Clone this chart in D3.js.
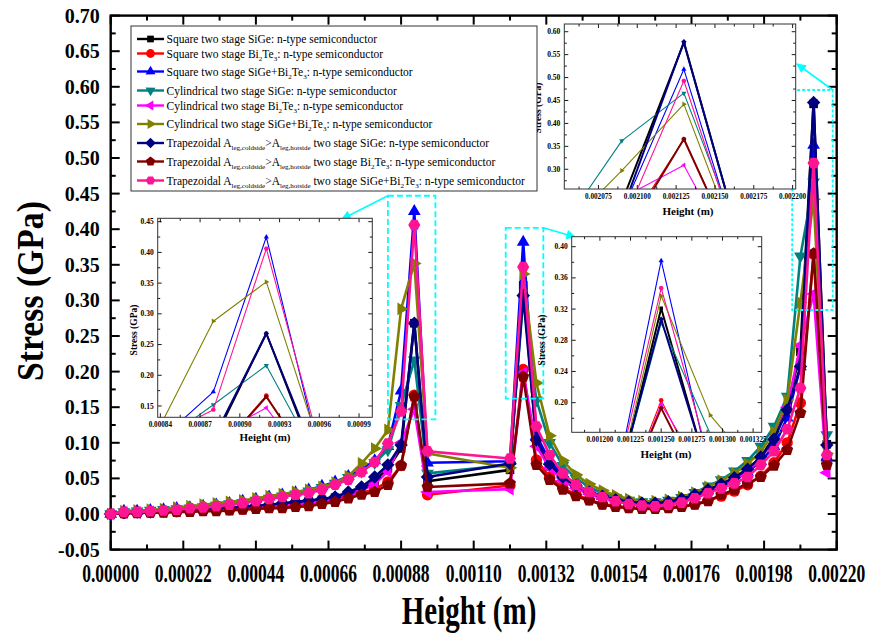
<!DOCTYPE html>
<html><head><meta charset="utf-8">
<script src="https://cdn.jsdelivr.net/npm/d3@7"></script>
<style>body{margin:0;background:#fff}svg{display:block}</style>
</head><body>
<svg id="chart" width="874" height="636"></svg>
<script>
// Mesh heights along the two-stage leg (m)
const heights = [
  0, 0.00004, 0.00008, 0.00012, 0.00016, 0.00020, 0.00024, 0.00028, 0.00032, 0.00036,
  0.00040, 0.00044, 0.00048, 0.00052, 0.00056, 0.00060, 0.00064, 0.00068, 0.00072, 0.00076,
  0.00080, 0.00084, 0.00088, 0.00092,
  0.00096, 0.00121,
  0.00125, 0.00129, 0.00133, 0.00137, 0.00141, 0.00145, 0.00149, 0.00153, 0.00157, 0.00161,
  0.00165, 0.00169, 0.00173, 0.00177, 0.00181, 0.00185, 0.00189, 0.00193, 0.00197, 0.00201,
  0.00205, 0.00209, 0.00213,
  0.00217
];

// Stress (GPa) for each configuration
const squareSiGe = [
  0, 0.002, 0.002, 0.003, 0.004, 0.004, 0.005, 0.006, 0.007, 0.008,
  0.009, 0.011, 0.012, 0.014, 0.016, 0.018, 0.020, 0.023, 0.028, 0.035,
  0.047, 0.064, 0.092, 0.268,
  0.046, 0.062,
  0.321, 0.100, 0.067, 0.050, 0.038, 0.030, 0.024, 0.019, 0.016, 0.014,
  0.014, 0.016, 0.020, 0.026, 0.033, 0.041, 0.050, 0.062, 0.080, 0.108,
  0.150, 0.228, 0.576,
  0.098
];
const squareBiTe = [
  0, 0.001, 0.002, 0.002, 0.003, 0.003, 0.004, 0.005, 0.005, 0.006,
  0.007, 0.008, 0.009, 0.010, 0.011, 0.013, 0.016, 0.019, 0.024, 0.029,
  0.035, 0.045, 0.068, 0.167,
  0.027, 0.040,
  0.203, 0.076, 0.052, 0.037, 0.027, 0.020, 0.014, 0.011, 0.009, 0.008,
  0.008, 0.009, 0.011, 0.014, 0.019, 0.025, 0.032, 0.041, 0.053, 0.072,
  0.100, 0.156, 0.365,
  0.075
];
const squareMixed = [
  0, 0.004, 0.004, 0.005, 0.006, 0.008, 0.009, 0.011, 0.013, 0.015,
  0.018, 0.021, 0.024, 0.027, 0.030, 0.034, 0.039, 0.045, 0.053, 0.062,
  0.075, 0.095, 0.173, 0.425,
  0.072, 0.074,
  0.382, 0.110, 0.075, 0.055, 0.041, 0.032, 0.025, 0.020, 0.016, 0.014,
  0.014, 0.016, 0.020, 0.026, 0.033, 0.040, 0.048, 0.059, 0.074, 0.095,
  0.135, 0.207, 0.518,
  0.080
];
const cylSiGe = [
  0, 0.003, 0.004, 0.005, 0.006, 0.007, 0.008, 0.010, 0.012, 0.014,
  0.016, 0.019, 0.022, 0.025, 0.028, 0.032, 0.037, 0.043, 0.051, 0.060,
  0.072, 0.090, 0.152, 0.216,
  0.057, 0.069,
  0.302, 0.160, 0.100, 0.068, 0.050, 0.038, 0.029, 0.023, 0.019, 0.017,
  0.017, 0.019, 0.023, 0.030, 0.039, 0.048, 0.060, 0.075, 0.095, 0.123,
  0.165, 0.362, 0.466,
  0.111
];
const cylBiTe = [
  0, 0.002, 0.002, 0.003, 0.003, 0.004, 0.005, 0.006, 0.006, 0.007,
  0.008, 0.009, 0.010, 0.012, 0.013, 0.015, 0.018, 0.021, 0.026, 0.033,
  0.042, 0.060, 0.100, 0.147,
  0.031, 0.035,
  0.198, 0.095, 0.065, 0.047, 0.036, 0.028, 0.022, 0.018, 0.015, 0.013,
  0.013, 0.015, 0.019, 0.024, 0.031, 0.039, 0.048, 0.060, 0.078, 0.105,
  0.150, 0.237, 0.309,
  0.058
];
const cylMixed = [
  0, 0.004, 0.005, 0.006, 0.007, 0.009, 0.011, 0.013, 0.015, 0.017,
  0.019, 0.022, 0.025, 0.028, 0.031, 0.034, 0.038, 0.044, 0.053, 0.071,
  0.092, 0.118, 0.288, 0.352,
  0.085, 0.065,
  0.337, 0.184, 0.110, 0.075, 0.055, 0.042, 0.033, 0.026, 0.021, 0.018,
  0.018, 0.020, 0.024, 0.030, 0.038, 0.047, 0.057, 0.070, 0.088, 0.115,
  0.160, 0.297, 0.442,
  0.085
];
const trapSiGe = [
  0, 0.002, 0.003, 0.003, 0.004, 0.005, 0.006, 0.007, 0.008, 0.009,
  0.010, 0.012, 0.013, 0.015, 0.017, 0.019, 0.021, 0.024, 0.031, 0.038,
  0.052, 0.069, 0.097, 0.268,
  0.052, 0.071,
  0.307, 0.104, 0.070, 0.052, 0.040, 0.031, 0.025, 0.020, 0.017, 0.015,
  0.015, 0.017, 0.021, 0.027, 0.034, 0.042, 0.051, 0.063, 0.080, 0.105,
  0.146, 0.207, 0.578,
  0.097
];
const trapBiTe = [
  0, 0.001, 0.001, 0.002, 0.002, 0.003, 0.003, 0.004, 0.004, 0.005,
  0.006, 0.007, 0.008, 0.008, 0.010, 0.011, 0.014, 0.017, 0.022, 0.027,
  0.031, 0.041, 0.068, 0.165,
  0.038, 0.043,
  0.193, 0.069, 0.048, 0.034, 0.025, 0.019, 0.013, 0.010, 0.008, 0.007,
  0.007, 0.008, 0.010, 0.013, 0.018, 0.027, 0.034, 0.043, 0.052, 0.068,
  0.090, 0.142, 0.366,
  0.069
];
const trapMixed = [
  0, 0.003, 0.003, 0.004, 0.005, 0.006, 0.008, 0.009, 0.011, 0.013,
  0.015, 0.018, 0.021, 0.024, 0.027, 0.029, 0.034, 0.041, 0.048, 0.059,
  0.073, 0.099, 0.144, 0.406,
  0.088, 0.078,
  0.347, 0.123, 0.083, 0.057, 0.041, 0.031, 0.024, 0.018, 0.014, 0.012,
  0.011, 0.013, 0.016, 0.022, 0.029, 0.036, 0.043, 0.052, 0.069, 0.088,
  0.119, 0.177, 0.493,
  0.083
];

const xTicks = [0, 0.00022, 0.00044, 0.00066, 0.00088, 0.0011, 0.00132, 0.00154, 0.00176, 0.00198, 0.0022];
const yTicks = [-0.05, 0, 0.05, 0.10, 0.15, 0.20, 0.25, 0.30, 0.35, 0.40, 0.45, 0.50, 0.55, 0.60, 0.65, 0.70];

const series = [
  {values: squareSiGe,  color: "#000000", shape: "square",   label: [["Square two stage SiGe: n-type semiconductor"]]},
  {values: squareBiTe,  color: "#FF0000", shape: "circle",   label: [["Square two stage Bi"],["2","s"],["Te"],["3","s"],[": n-type semiconductor"]]},
  {values: squareMixed, color: "#0000FF", shape: "triUp",    label: [["Square two stage SiGe+Bi"],["2","s"],["Te"],["3","s"],[": n-type semiconductor"]]},
  {values: cylSiGe,     color: "#008080", shape: "triDown",  label: [["Cylindrical two stage SiGe: n-type semiconductor"]]},
  {values: cylBiTe,     color: "#FF00FF", shape: "triLeft",  label: [["Cylindrical two stage Bi"],["2","s"],["Te"],["3","s"],[": n-type semiconductor"]]},
  {values: cylMixed,    color: "#808000", shape: "triRight", label: [["Cylindrical two stage SiGe+Bi"],["2","s"],["Te"],["3","s"],[": n-type semiconductor"]]},
  {values: trapSiGe,    color: "#000080", shape: "diamond",  label: [["Trapezoidal A"],["leg,coldside","s"],[">A"],["leg,hotside","s"],[" two stage SiGe: n-type semiconductor"]]},
  {values: trapBiTe,    color: "#800000", shape: "pentagon", label: [["Trapezoidal A"],["leg,coldside","s"],[">A"],["leg,hotside","s"],[" two stage Bi"],["2","s"],["Te"],["3","s"],[": n-type semiconductor"]]},
  {values: trapMixed,   color: "#FF1493", shape: "hexagon",  label: [["Trapezoidal A"],["leg,coldside","s"],[">A"],["leg,hotside","s"],[" two stage SiGe+Bi"],["2","s"],["Te"],["3","s"],[": n-type semiconductor"]]}
];

const FONT = "'Liberation Serif','Times New Roman',serif";
const svg = d3.select("#chart");
// tick formatting with a plain hyphen for negatives
const fmt = spec => v => d3.format(spec)(v).replace("\u2212", "-");

// ---- marker shapes ----
function polygon(n, r, rot) {
  const pts = [];
  for (let k = 0; k < n; k++) {
    const a = (rot + k * 360 / n) * Math.PI / 180;
    pts.push([r * Math.sin(a), -r * Math.cos(a)]);
  }
  return "M" + pts.map(p => p[0].toFixed(2) + "," + p[1].toFixed(2)).join("L") + "Z";
}
function markerPath(shape, s) {
  switch (shape) {
    case "square":   return polygon(4, s * 0.95, 45);
    case "circle":   return d3.symbol(d3.symbolCircle, Math.PI * s * s * 0.78)();
    case "triUp":    return polygon(3, s * 1.15, 0);
    case "triDown":  return polygon(3, s * 1.15, 180);
    case "triLeft":  return polygon(3, s * 1.15, 270);
    case "triRight": return polygon(3, s * 1.15, 90);
    case "diamond":  return polygon(4, s * 1.05, 0);
    case "pentagon": return polygon(5, s * 0.98, 0);
    case "hexagon":  return polygon(6, s * 0.95, 30);
  }
}

// ---- main scales ----
const x = d3.scaleLinear().domain([0, 0.0022]).range([110.7, 836.7]);
const y = d3.scaleLinear().domain([-0.05, 0.70]).range([549.6, 15.6]);

// ---- main axes frame with inward ticks ----
const frame = svg.append("g");
const L = x.range()[0], R = x.range()[1], T = y.range()[1], B = y.range()[0];

function inwardAxis(g, scale, majors, minors, side, a, majLen, minLen, sw) {
  const add = (v, len) => {
    const p = scale(v);
    let x1, y1, x2, y2;
    if (side === "bottom") { x1 = x2 = p; y1 = a; y2 = a - len; }
    if (side === "top")    { x1 = x2 = p; y1 = a; y2 = a + len; }
    if (side === "left")   { y1 = y2 = p; x1 = a; x2 = a + len; }
    if (side === "right")  { y1 = y2 = p; x1 = a; x2 = a - len; }
    g.append("line").attr("x1", x1).attr("y1", y1).attr("x2", x2).attr("y2", y2)
      .attr("stroke", "#000").attr("stroke-width", sw);
  };
  majors.forEach(v => add(v, majLen));
  minors.forEach(v => add(v, minLen));
}

const xMinor = d3.range(10).map(i => xTicks[i] + 0.00011);
const yMinor = d3.range(15).map(i => yTicks[i] + 0.025);

inwardAxis(frame, x, xTicks, xMinor, "bottom", B, 9, 5, 2);
inwardAxis(frame, x, xTicks, xMinor, "top", T, 9, 5, 2);
inwardAxis(frame, y, yTicks, yMinor, "left", L, 9, 5, 2);
inwardAxis(frame, y, yTicks, yMinor, "right", R, 9, 5, 2);
frame.append("rect").attr("x", L).attr("y", T).attr("width", R - L).attr("height", B - T)
  .attr("fill", "none").attr("stroke", "#000").attr("stroke-width", 2.4);

// tick labels
frame.selectAll(".yl").data(yTicks).enter().append("text")
  .attr("x", L - 11).attr("y", d => y(d) + 7)
  .attr("text-anchor", "end").attr("font-family", FONT).attr("font-weight", "bold")
  .attr("font-size", 20).text(fmt(".2f"));
frame.selectAll(".xl").data(xTicks).enter().append("text")
  .attr("transform", d => `translate(${x(d)},${B + 32}) scale(0.9,1.25)`)
  .attr("text-anchor", "middle").attr("font-family", FONT).attr("font-weight", "bold")
  .attr("font-size", 19.5).text(fmt(".5f"));

// axis titles
svg.append("text").attr("transform", "translate(43,291) rotate(-90) scale(1.02,1.15)")
  .attr("text-anchor", "middle").attr("font-family", FONT).attr("font-weight", "bold")
  .attr("font-size", 33).text("Stress (GPa)");
svg.append("text").attr("transform", "translate(469,624) scale(0.88,1.2)")
  .attr("text-anchor", "middle").attr("font-family", FONT).attr("font-weight", "bold")
  .attr("font-size", 33).text("Height (m)");

// ---- plotting helper ----
function drawSeries(g, xs, ys, lw, ms, thick) {
  series.forEach(s => {
    const pts = heights.map((h, i) => [xs(h), ys(s.values[i])]);
    const w = (thick && ["#000080", "#000000", "#800000"].includes(s.color)) ? lw * 1.8 : lw;
    g.append("path").attr("d", d3.line()(pts)).attr("fill", "none")
      .attr("stroke", s.color).attr("stroke-width", w).attr("stroke-linejoin", "round");
    g.selectAll(null).data(pts).enter().append("path")
      .attr("d", markerPath(s.shape, ms))
      .attr("transform", p => `translate(${p[0]},${p[1]})`)
      .attr("fill", s.color);
  });
}

// main data
drawSeries(svg.append("g"), x, y, 2.6, 6.4, false);

// ---- zoom frames and arrows ----
const cyan = "#00FFFF";
const defs = svg.append("defs");
defs.append("marker").attr("id", "arr").attr("viewBox", "0 0 10 10").attr("refX", 9).attr("refY", 5)
  .attr("markerWidth", 7).attr("markerHeight", 6).attr("orient", "auto")
  .append("path").attr("d", "M0,0L10,5L0,10Z").attr("fill", cyan);

const boxes = [
  {x0: 0.00084, x1: 0.000984, y0: 0.133, y1: 0.447, dash: "6,3", from: [0.00084, 0.447], to: [342, 219]},
  {x0: 0.001197, x1: 0.001311, y0: 0.162, y1: 0.402, dash: "6,3", from: [0.001311, 0.402], to: [575, 237]},
  {x0: 0.002065, x1: 0.002188, y0: 0.2865, y1: 0.5955, dash: "3,2", from: [0.002188, 0.5955], to: [797, 64]}
];
boxes.forEach(b => {
  svg.append("rect").attr("x", x(b.x0)).attr("y", y(b.y1))
    .attr("width", x(b.x1) - x(b.x0)).attr("height", y(b.y0) - y(b.y1))
    .attr("fill", "none").attr("stroke", cyan).attr("stroke-width", 1.8).attr("stroke-dasharray", b.dash);
  svg.append("line").attr("x1", x(b.from[0])).attr("y1", y(b.from[1]))
    .attr("x2", b.to[0]).attr("y2", b.to[1]).attr("stroke", cyan).attr("stroke-width", 1.6)
    .attr("marker-end", "url(#arr)");
});

// ---- insets ----
const insets = [
  {id: "i1", l: 157.7, r: 372.3, t: 218.3, b: 417.3, xd: [0.000838, 0.001], yd: [0.1316, 0.4555],
   xt: [0.00084, 0.00087, 0.0009, 0.00093, 0.00096, 0.00099], xstep: 0.000015, xfmt: ".5f",
   yt: [0.15, 0.20, 0.25, 0.30, 0.35, 0.40, 0.45], ystep: 0.025, yfmt: ".2f",
   ylab: [137, 330], xlab: [265, 441]},
  {id: "i2", l: 571.7, r: 761.7, t: 236.7, b: 432.3, xd: [0.001177, 0.001332], yd: [0.162, 0.4128],
   xt: [0.0012, 0.001225, 0.00125, 0.001275, 0.0013, 0.001325], xstep: 0.0000125, xfmt: ".6f",
   yt: [0.20, 0.24, 0.28, 0.32, 0.36, 0.40], ystep: 0.02, yfmt: ".2f",
   ylab: [545, 340], xlab: [666, 458]},
  {id: "i3", l: 564.3, r: 795.7, t: 24, b: 189, xd: [0.002053, 0.002202], yd: [0.257, 0.6168],
   xt: [0.002075, 0.0021, 0.002125, 0.00215, 0.002175, 0.0022], xstep: 0.0000125, xfmt: ".6f",
   yt: [0.30, 0.35, 0.40, 0.45, 0.50, 0.55, 0.60], ystep: 0.025, yfmt: ".2f",
   ylab: [541, 108], xlab: [688, 215]}
];

insets.forEach(ins => {
  const g = svg.append("g");
  const xs = d3.scaleLinear().domain(ins.xd).range([ins.l, ins.r]);
  const ys = d3.scaleLinear().domain(ins.yd).range([ins.b, ins.t]);
  g.append("rect").attr("x", ins.l).attr("y", ins.t).attr("width", ins.r - ins.l).attr("height", ins.b - ins.t)
    .attr("fill", "#fff");
  defs.append("clipPath").attr("id", "clip-" + ins.id).append("rect")
    .attr("x", ins.l).attr("y", ins.t).attr("width", ins.r - ins.l).attr("height", ins.b - ins.t);
  const dg = g.append("g").attr("clip-path", `url(#clip-${ins.id})`);
  drawSeries(dg, xs, ys, 1.1, 2.6, true);

  const xMin = [], yMin = [];
  for (let v = ins.xd[0] - (ins.xd[0] % ins.xstep); v < ins.xd[1]; v += ins.xstep) {
    if (v > ins.xd[0] && !ins.xt.some(t => Math.abs(t - v) < 1e-9)) xMin.push(v);
  }
  for (let v = ins.yt[0] - ins.ystep; v < ins.yd[1]; v += ins.ystep) {
    if (v > ins.yd[0] && !ins.yt.some(t => Math.abs(t - v) < 1e-9)) yMin.push(v);
  }
  const xMaj = ins.xt.filter(v => v < ins.xd[1]);
  inwardAxis(g, xs, xMaj, xMin, "bottom", ins.b, 4, 2.5, 0.9);
  inwardAxis(g, xs, xMaj, xMin, "top", ins.t, 4, 2.5, 0.9);
  inwardAxis(g, ys, ins.yt, yMin, "left", ins.l, 4, 2.5, 0.9);
  inwardAxis(g, ys, ins.yt, yMin, "right", ins.r, 4, 2.5, 0.9);
  g.append("rect").attr("x", ins.l).attr("y", ins.t).attr("width", ins.r - ins.l).attr("height", ins.b - ins.t)
    .attr("fill", "none").attr("stroke", "#333").attr("stroke-width", 1);

  g.selectAll(null).data(ins.yt).enter().append("text")
    .attr("x", ins.l - 4).attr("y", d => ys(d) + 2.6).attr("text-anchor", "end")
    .attr("font-family", FONT).attr("font-weight", "bold").attr("font-size", 7.5)
    .text(fmt(ins.yfmt));
  g.selectAll(null).data(ins.xt).enter().append("text")
    .attr("x", d => xs(d)).attr("y", ins.b + 9.5).attr("text-anchor", "middle")
    .attr("font-family", FONT).attr("font-weight", "bold").attr("font-size", 7.2)
    .text(fmt(ins.xfmt));
  g.append("text").attr("transform", `translate(${ins.ylab[0]},${ins.ylab[1]}) rotate(-90)`)
    .attr("text-anchor", "middle").attr("font-family", FONT).attr("font-weight", "bold")
    .attr("font-size", 9.5).text("Stress (GPa)");
  g.append("text").attr("x", ins.xlab[0]).attr("y", ins.xlab[1]).attr("text-anchor", "middle")
    .attr("font-family", FONT).attr("font-weight", "bold").attr("font-size", 11).text("Height (m)");
});

// ---- legend ----
const lg = svg.append("g");
lg.append("rect").attr("x", 131).attr("y", 26).attr("width", 406).attr("height", 165)
  .attr("fill", "#fff").attr("stroke", "#333").attr("stroke-width", 1);
const rowY = [39, 53.5, 71.5, 90.5, 105.5, 124, 143, 161.5, 180.5];
series.forEach((s, i) => {
  const yy = rowY[i];
  lg.append("line").attr("x1", 137).attr("x2", 164).attr("y1", yy).attr("y2", yy)
    .attr("stroke", s.color).attr("stroke-width", 2.4);
  lg.append("path").attr("d", markerPath(s.shape, 5)).attr("transform", `translate(150.5,${yy})`)
    .attr("fill", s.color);
  const t = lg.append("text").attr("x", 166.5).attr("y", yy + 4)
    .attr("font-family", FONT).attr("font-size", 11.5).attr("fill", "#000");
  s.label.forEach((part, k) => {
    const isSub = part[1] === "s";
    const prevSub = k > 0 && s.label[k - 1][1] === "s";
    t.append("tspan").attr("font-size", isSub ? 7 : 11.5)
      .attr("dy", isSub ? (prevSub ? 0 : 3) : (prevSub ? -3 : 0))
      .text(part[0]);
  });
});
</script>
</body></html>
